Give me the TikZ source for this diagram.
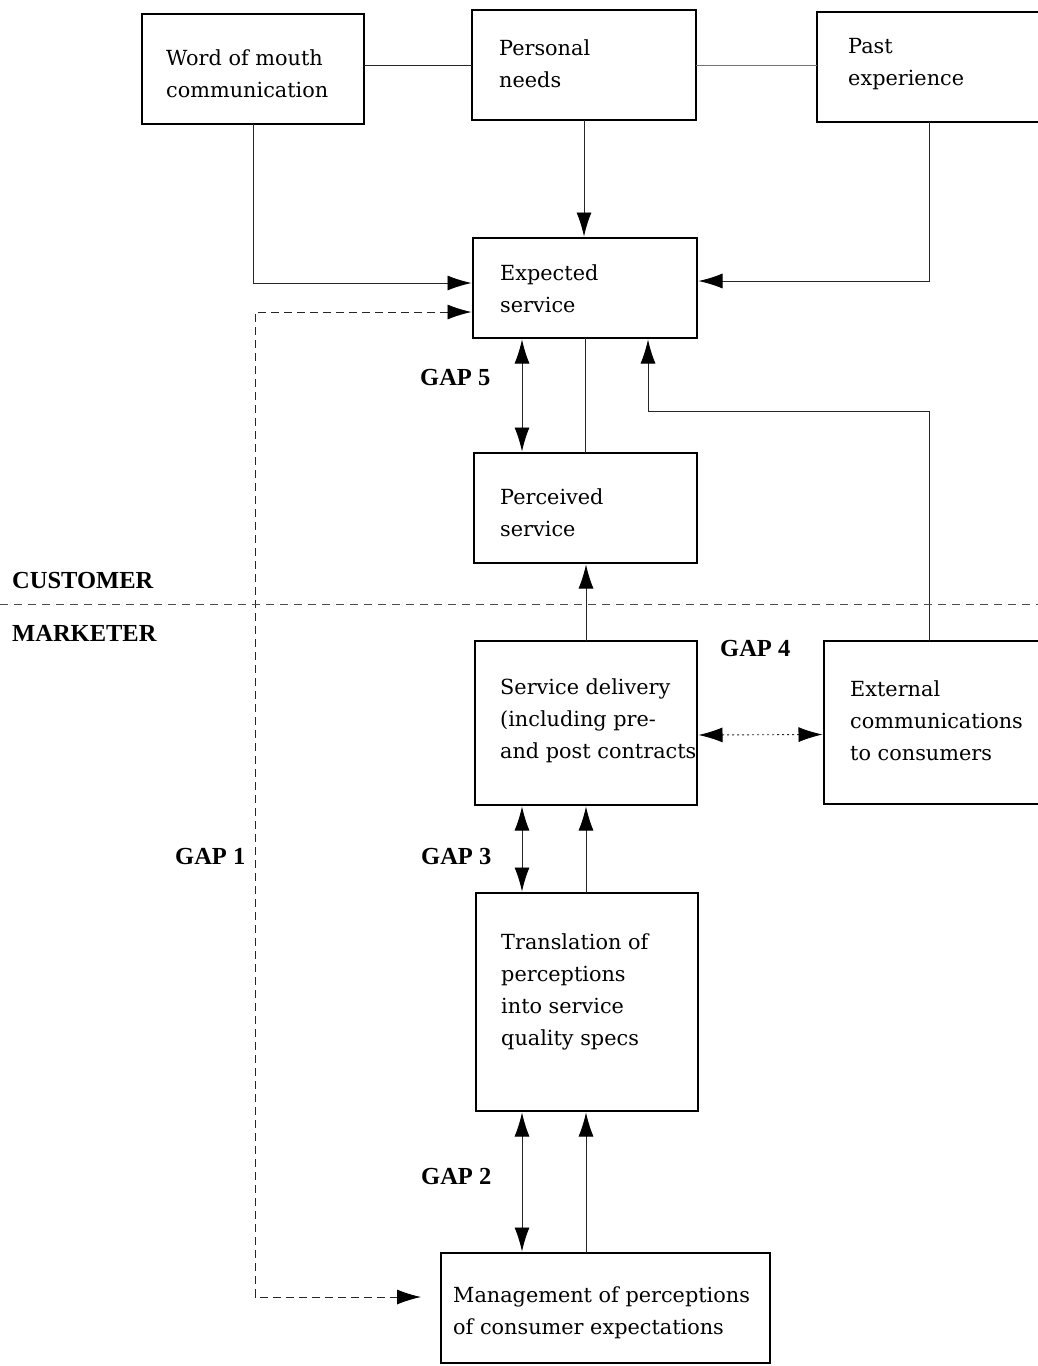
\documentclass[tikz,border=0pt]{standalone}
\usepackage{fontspec}
\newfontfamily\boxfont{DejaVu Serif}
\newfontfamily\lblfont{Liberation Serif}
\usetikzlibrary{arrows.meta}

\tikzset{
  box/.style={draw, line width=1.3pt, inner sep=0pt, outer sep=0pt},
  txt/.style={anchor=west, align=left, inner sep=0pt,
    font=\boxfont\fontsize{20.8}{32}\selectfont},
  lbl/.style={anchor=west, inner sep=0pt,
    font=\lblfont\bfseries\fontsize{24.5}{28}\selectfont},
  conn/.style={line width=0.9pt, draw=black!85},
  tip/.tip={Latex[length=24pt,width=15pt,black]},
  arr/.style={conn, -tip, shorten >=1.5pt},
  dbl/.style={conn, tip-tip, shorten >=1.5pt, shorten <=1.5pt},
  gapline/.style={conn, dash pattern=on 8pt off 5pt},
}

\begin{document}
\begin{tikzpicture}[x=1pt, y=-1pt]
\useasboundingbox (0,0) rectangle (1038,1366);
\clip (0,0) rectangle (1038,1366);

% boxes
\node[box, minimum width=222pt, minimum height=110pt] (wom)         at (253,69)     {};
\node[box, minimum width=224pt, minimum height=110pt] (needs)       at (584,65)     {};
\node[box, minimum width=228pt, minimum height=110pt] (past)        at (931,67)     {};
\node[box, minimum width=224pt, minimum height=100pt] (expected)    at (585,288)    {};
\node[box, minimum width=223pt, minimum height=110pt] (perceived)   at (585.5,508)  {};
\node[box, minimum width=222pt, minimum height=164pt] (delivery)    at (586,723)    {};
\node[box, minimum width=221pt, minimum height=163pt] (external)    at (934.5,722.5){};
\node[box, minimum width=222pt, minimum height=218pt] (translation) at (587,1002)   {};
\node[box, minimum width=329pt, minimum height=110pt] (mgmt)        at (605.5,1308) {};

% box texts
\node[txt] (womT)         at (166,74)   {Word of mouth\\communication};
\node[txt] (needsT)       at (499,64)   {Personal\\needs};
\node[txt] (pastT)        at (848,64)   {Past\\experience};
\node[txt] (expectedT)    at (500,289)  {Expected\\service};
\node[txt] (perceivedT)   at (500,513)  {Perceived\\service};
\node[txt] (deliveryT)    at (500,721)  {Service delivery\\(including pre-\\and post contracts};
\node[txt] (externalT)    at (850,721)  {External\\communications\\to consumers};
\node[txt] (translationT) at (501,992)  {Translation of\\perceptions\\into service\\quality specs};
\node[txt] (mgmtT)        at (453,1313) {Management of perceptions\\of consumer expectations};

% labels
\node[lbl] (customer) at (12,580)  {CUSTOMER};
\node[lbl] (marketer) at (12,633)  {MARKETER};
\node[lbl] (gap5)     at (420,378) {GAP 5};
\node[lbl] (gap4)     at (720,648) {GAP 4};
\node[lbl] (gap1)     at (175,856) {GAP 1};
\node[lbl] (gap3)     at (421,856) {GAP 3};
\node[lbl] (gap2)     at (421,1176){GAP 2};

% helper coordinates
\coordinate (sepL) at (0,604);
\coordinate (sepR) at (1038,604);
\coordinate (g1top) at (255,312);
\coordinate (g1bot) at (255,1297);
\coordinate (leftLane) at (522,0);
\coordinate (rightLane) at (586,0);
\coordinate (extTurn) at (929,411);
\coordinate (expTurn) at (648,411);

% top row links
\draw[conn] (wom.east |- needs.west) -- (needs.west);
\draw[conn, draw=black!55] (needs.east) -- (past.west |- needs.east);

% influences on expected service
\draw[arr] (needs.south) -- (needs.south |- expected.north);
\draw[arr] (wom.south) |- ([yshift=5pt]expected.west);
\draw[arr] ([xshift=-2pt]past.south) |- ([yshift=7pt]expected.east);
\draw[arr] (external.north -| extTurn) -- (extTurn) -- (expTurn) -- (expected.south -| expTurn);

% gap 1
\draw[gapline, tip-tip, shorten >=20pt, shorten <=1.5pt]
  ([yshift=-24pt]expected.west) -- (g1top) -- (g1bot) -- ([yshift=11pt]mgmt.west);

% gap 5
\draw[dbl] (expected.south -| leftLane) -- (perceived.north -| leftLane);
\draw[conn] (expected.south) -- (expected.south |- perceived.north);

% customer / marketer boundary
\draw[conn, draw=black!70, dash pattern=on 8pt off 6pt] (sepL) -- (sepR);

% delivery to perceived service
\draw[arr] (delivery.north) -- (delivery.north |- perceived.south);

% gap 4
\draw[dbl, dash pattern=on 2pt off 3pt] ([yshift=-12pt]delivery.east) -- ([yshift=-12pt]external.west);

% gap 3
\draw[dbl] (delivery.south -| leftLane) -- (translation.north -| leftLane);
\draw[arr] (translation.north -| rightLane) -- (delivery.south -| rightLane);

% gap 2
\draw[dbl] (translation.south -| leftLane) -- (mgmt.north -| leftLane);
\draw[arr] (mgmt.north -| rightLane) -- (translation.south -| rightLane);
\end{tikzpicture}
\end{document}
